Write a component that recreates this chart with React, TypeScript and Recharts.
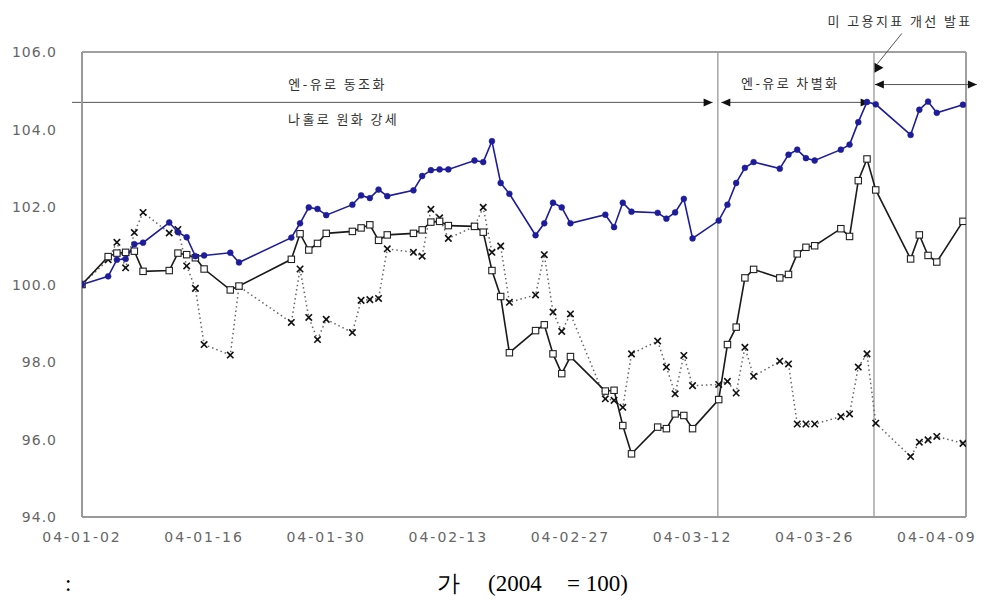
import React from "react";
import { LineChart, Line, XAxis, YAxis, ReferenceLine } from "recharts";

// ---- data ----
const dates = [
  "04-01-02","04-01-05","04-01-06","04-01-07","04-01-08","04-01-09","04-01-12","04-01-13","04-01-14","04-01-15","04-01-16","04-01-19","04-01-20","04-01-26","04-01-27","04-01-28","04-01-29","04-01-30",
  "04-02-02","04-02-03","04-02-04","04-02-05","04-02-06","04-02-09","04-02-10","04-02-11","04-02-12","04-02-13","04-02-16","04-02-17","04-02-18","04-02-19","04-02-20","04-02-23","04-02-24","04-02-25","04-02-26","04-02-27",
  "04-03-02","04-03-03","04-03-04","04-03-05","04-03-08","04-03-09","04-03-10","04-03-11","04-03-12","04-03-15","04-03-16","04-03-17","04-03-18","04-03-19","04-03-22","04-03-23","04-03-24","04-03-25","04-03-26","04-03-29","04-03-30","04-03-31",
  "04-04-01","04-04-02","04-04-06","04-04-07","04-04-08","04-04-09","04-04-12",
];

const blueSeries = [
  100.00,100.21,100.64,100.66,101.04,101.08,101.60,101.35,101.22,100.73,100.75,100.82,100.57,101.21,101.58,101.99,101.95,101.79,
  102.06,102.30,102.23,102.45,102.28,102.43,102.80,102.95,102.97,102.97,103.20,103.16,103.70,102.62,102.34,101.27,101.58,102.11,101.99,101.58,
  101.80,101.48,102.11,101.88,101.85,101.70,101.86,102.21,101.19,101.65,102.06,102.62,103.01,103.16,102.99,103.35,103.48,103.26,103.20,103.48,103.61,104.19,
  104.71,104.65,103.86,104.51,104.72,104.43,104.64,
];

const squareSeries = [
  100.00,100.72,100.81,100.83,100.86,100.34,100.36,100.81,100.77,100.69,100.40,99.86,99.96,100.65,101.31,100.89,101.06,101.32,
  101.37,101.46,101.54,101.14,101.28,101.32,101.41,101.61,101.63,101.52,101.50,101.35,100.36,99.69,98.24,98.81,98.96,98.21,97.70,98.14,
  97.25,97.27,96.36,95.63,96.32,96.28,96.66,96.62,96.28,97.03,98.45,98.90,100.17,100.39,100.17,100.26,100.79,100.96,101.00,101.44,101.24,102.68,
  103.24,102.44,100.66,101.28,100.75,100.58,101.63,
];

const crossSeries = [
  100.00,100.64,101.09,100.43,101.34,101.86,101.33,101.42,100.48,99.90,98.45,98.18,99.95,99.02,100.40,99.15,98.58,99.10,
  98.76,99.59,99.61,99.64,100.92,100.83,100.73,101.94,101.72,101.19,101.50,101.99,100.83,100.99,99.54,99.73,100.77,99.29,98.79,99.24,
  97.05,97.01,96.83,98.21,98.54,97.87,97.18,98.17,97.39,97.42,97.50,97.20,98.38,97.63,98.02,97.95,96.40,96.40,96.40,96.59,96.66,97.87,
  98.21,96.42,95.56,95.93,95.99,96.08,95.90,
];

const xTickDates = ["04-01-02","04-01-16","04-01-30","04-02-13","04-02-27","04-03-12","04-03-26","04-04-09"];
const yTicks = [94, 96, 98, 100, 102, 104, 106];

// phase boundaries (day offsets) and annotation texts
const phaseLines = [72.9, 90.8];
const notes = [
  { text: "엔-유로 동조화", x: 29.3, y: 105.19 },
  { text: "나홀로 원화 강세", x: 30.0, y: 104.28 },
  { text: "엔-유로 차별화", x: 81.2, y: 105.21 },
  { text: "미 고용지표 개선 발표", x: 93.8, y: 106.81 },
];
const arrows = [
  { from: { x: -1.15, y: 104.7 }, to: { x: 72.3, y: 104.7 }, start: false, end: true },
  { from: { x: 73.3, y: 104.7 }, to: { x: 90.3, y: 104.7 }, start: true, end: true },
  { from: { x: 90.9, y: 105.16 }, to: { x: 102.6, y: 105.16 }, start: true, end: true },
];
const pointer = { from: { x: 94.0, y: 106.48 }, to: { x: 91.2, y: 105.7 } };

// ---- helpers ----
const BASE = Date.UTC(2004, 0, 2);
const DAY = 86400000;
const dayOf = (s: string) => {
  const [yy, mm, dd] = s.split("-").map(Number);
  return Math.round((Date.UTC(2000 + yy, mm - 1, dd) - BASE) / DAY);
};
const pad = (n: number) => (n < 10 ? "0" + n : "" + n);
const fmt = (t: number) => {
  const d = new Date(BASE + t * DAY);
  return `${pad(d.getUTCFullYear() % 100)}-${pad(d.getUTCMonth() + 1)}-${pad(d.getUTCDate())}`;
};

const data = dates.map((d, i) => ({
  t: dayOf(d),
  a: blueSeries[i],
  b: squareSeries[i],
  c: crossSeries[i],
}));
const xTicks = xTickDates.map(dayOf);

const BlueDot = (p: any) => (
  <circle key={`a${p.index}`} cx={p.cx} cy={p.cy} r={2.9} fill="#1c1c9c" stroke="#1c1c9c" strokeWidth={0.6} />
);
const SquareDot = (p: any) => (
  <rect key={`b${p.index}`} x={p.cx - 3.2} y={p.cy - 3.2} width={6.4} height={6.4} fill="#fff" stroke="#222" strokeWidth={1.1} />
);
const CrossDot = (p: any) => (
  <g key={`c${p.index}`}>
    <line x1={p.cx - 3.2} y1={p.cy - 3.2} x2={p.cx + 3.2} y2={p.cy + 3.2} stroke="#111" strokeWidth={1.6} />
    <line x1={p.cx - 3.2} y1={p.cy + 3.2} x2={p.cx + 3.2} y2={p.cy - 3.2} stroke="#111" strokeWidth={1.6} />
  </g>
);

const arrowShape = (start: boolean, end: boolean) => (p: any) => {
  const { x1, y1, x2, y2 } = p;
  return (
    <g>
      <line x1={x1} y1={y1} x2={x2} y2={y2} stroke="#555" strokeWidth={1} />
      {end && <polygon points={`${x2},${y2} ${x2 - 9},${y2 - 4} ${x2 - 9},${y2 + 4}`} fill="#111" />}
      {start && <polygon points={`${x1},${y1} ${x1 + 9},${y1 - 4} ${x1 + 9},${y1 + 4}`} fill="#111" />}
    </g>
  );
};

const pointerShape = (p: any) => {
  const { x1, y1, x2, y2 } = p;
  return (
    <g>
      <line x1={x1} y1={y1} x2={x2} y2={y2} stroke="#555" strokeWidth={1} />
      <polygon points={`${x2 - 3},${y2 - 1} ${x2 - 3},${y2 + 9} ${x2 + 6},${y2 + 4}`} fill="#111" />
    </g>
  );
};

const textShape = (text: string) => (p: any) => (
  <text
    x={p.x1}
    y={p.y1}
    textAnchor="middle"
    dominantBaseline="central"
    fontFamily="'Noto Sans CJK KR', sans-serif"
    fontSize={13}
    letterSpacing={2.4}
    fill="#333"
  >
    {text}
  </text>
);

const XTick = (p: any) => (
  <text
    x={p.x}
    y={p.y + 25}
    textAnchor="middle"
    fontFamily="'DejaVu Sans', sans-serif"
    fontSize={14}
    letterSpacing={2}
    fill="#666"
  >
    {fmt(p.payload.value)}
  </text>
);

const YTick = (p: any) => (
  <text
    x={p.x - 25}
    y={p.y + 5}
    textAnchor="end"
    fontFamily="'DejaVu Sans', sans-serif"
    fontSize={14}
    letterSpacing={1}
    fill="#666"
  >
    {p.payload.value.toFixed(1)}
  </text>
);

const X_MAX = 101.35;

export default function App() {
  return (
    <div style={{ position: "absolute", left: 0, top: 0, width: 997, height: 601, background: "#fff" }}>
      <LineChart
        width={997}
        height={601}
        data={data}
        margin={{ top: 52, right: 31, bottom: 54, left: 22 }}
      >
        <XAxis
          dataKey="t"
          type="number"
          domain={[0, X_MAX]}
          ticks={xTicks}
          interval={0}
          height={30}
          tickLine={false}
          tickSize={0}
          tickMargin={0}
          axisLine={{ stroke: "#999", strokeWidth: 2 }}
          tick={<XTick />}
          allowDataOverflow
        />
        <YAxis
          type="number"
          domain={[94, 106]}
          ticks={yTicks}
          interval={0}
          width={60}
          tickLine={false}
          tickSize={0}
          tickMargin={0}
          axisLine={{ stroke: "#999", strokeWidth: 2 }}
          tick={<YTick />}
          allowDataOverflow
        />
        <ReferenceLine y={106} stroke="#a0a0a0" strokeWidth={2} ifOverflow="visible" />
        <ReferenceLine x={X_MAX} stroke="#a0a0a0" strokeWidth={2} ifOverflow="visible" />
        {phaseLines.map((v, i) => (
          <ReferenceLine key={`pl${i}`} x={v} stroke="#999" strokeWidth={1.3} ifOverflow="visible" />
        ))}
        {arrows.map((a, i) => (
          <ReferenceLine
            key={`ar${i}`}
            segment={[a.from, a.to]}
            ifOverflow="visible"
            shape={arrowShape(a.start, a.end)}
          />
        ))}
        <ReferenceLine segment={[pointer.from, pointer.to]} ifOverflow="visible" shape={pointerShape} />
        {notes.map((n, i) => (
          <ReferenceLine
            key={`nt${i}`}
            segment={[{ x: n.x, y: n.y }, { x: n.x, y: n.y }]}
            ifOverflow="visible"
            shape={textShape(n.text)}
          />
        ))}
        <Line
          dataKey="c"
          type="linear"
          stroke="#666"
          strokeWidth={1.5}
          strokeDasharray="1.5 3"
          dot={CrossDot}
          activeDot={false}
          isAnimationActive={false}
        />
        <Line
          dataKey="b"
          type="linear"
          stroke="#1a1a1a"
          strokeWidth={1.6}
          dot={SquareDot}
          activeDot={false}
          isAnimationActive={false}
        />
        <Line
          dataKey="a"
          type="linear"
          stroke="#1c1c9c"
          strokeWidth={1.6}
          dot={BlueDot}
          activeDot={false}
          isAnimationActive={false}
        />
      </LineChart>
      <div style={{ position: "absolute", left: 0, top: 570, width: 997, height: 28, fontFamily: "'Liberation Serif', serif", fontSize: 23, lineHeight: "28px", color: "#000" }}>
        <span style={{ position: "absolute", left: 65 }}>:</span>
        <span style={{ position: "absolute", left: 437 }}>가</span>
        <span style={{ position: "absolute", left: 488 }}>(2004</span>
        <span style={{ position: "absolute", left: 567 }}>= 100)</span>
      </div>
    </div>
  );
}
